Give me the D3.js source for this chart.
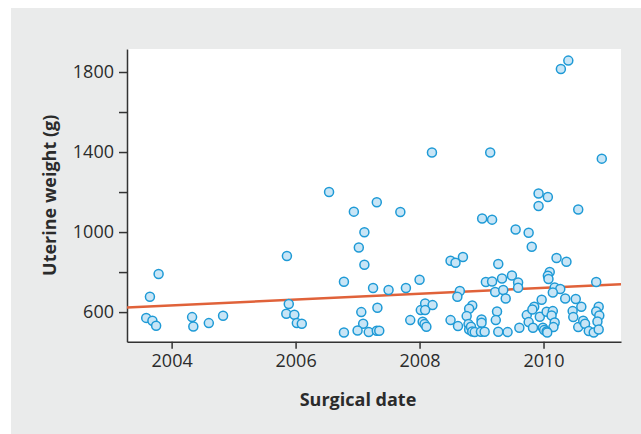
<!DOCTYPE html>
<html>
<head>
<meta charset="utf-8">
<script src="https://cdn.jsdelivr.net/npm/d3@7"></script>
<style>
  body { margin: 0; background: #ffffff; }
  svg { display: block; }
  .axis path, .axis line { stroke: #333333; stroke-width: 1.5; }
  .axis text { font-family: "Open Sans", sans-serif; font-size: 18px; fill: #2b2b2b; }
</style>
</head>
<body>
<script>
// 수술 날짜 (소수 연도)
const surgeryYears = [
    2003.79, 2003.65, 2003.59, 2003.69, 2003.75, 2004.33, 2004.35, 2004.60, 2004.83,
    2005.86, 2005.89, 2005.85, 2005.98, 2006.02, 2006.10,
    2006.54, 2007.31, 2006.94, 2007.69, 2007.11, 2007.02, 2007.11, 2006.78, 2007.25,
    2007.50, 2007.78, 2008.00, 2007.32, 2007.06, 2007.09, 2007.00, 2006.78, 2007.18,
    2007.31, 2007.35, 2007.85, 2008.02, 2008.09, 2008.21, 2008.09, 2008.05, 2008.08,
    2008.11, 2008.20,
    2008.50, 2008.58, 2008.70, 2008.65, 2008.61, 2008.50, 2008.62, 2008.85, 2008.80,
    2008.76, 2008.79, 2008.80, 2008.83, 2008.85, 2008.89, 2009.00, 2009.00, 2008.99,
    2009.05, 2009.27, 2009.07, 2009.17, 2009.33, 2009.49, 2009.59, 2009.59, 2009.22,
    2009.35, 2009.39, 2009.25, 2009.23, 2009.27, 2009.42, 2009.61, 2009.14, 2009.01,
    2009.17, 2009.55, 2009.76, 2009.81,
    2009.73, 2009.76, 2009.85, 2009.82, 2009.83, 2009.94, 2010.05, 2010.15, 2010.13,
    2010.18, 2010.16, 2009.99, 2010.01, 2010.05, 2010.06, 2009.97, 2010.21, 2010.37,
    2010.10, 2010.07, 2010.08, 2010.18, 2010.27, 2010.15, 2010.35, 2010.52, 2010.61,
    2010.47, 2010.48, 2010.56, 2010.64, 2010.67, 2010.73, 2010.81, 2010.85, 2010.89,
    2010.85, 2010.90, 2010.87, 2010.89, 2009.92, 2010.07, 2009.92, 2010.56, 2010.28,
    2010.40, 2010.94
];

// 자궁 무게 (g)
const uterineWeights = [
    790, 677, 571, 557, 532, 575, 528, 545, 582,
    880, 640, 592, 587, 545, 542,
    1200, 1149, 1102, 1100, 999, 923, 837, 752, 720,
    710, 720, 762, 622, 600, 542, 508, 498, 500,
    507, 507, 560, 610, 643, 635, 610, 552, 540,
    527, 1398,
    857, 847, 875, 705, 677, 560, 530, 633, 617,
    580, 540, 513, 527, 503, 500, 563, 547, 502,
    502, 840, 750, 753, 768, 783, 748, 722, 700,
    710, 668, 603, 560, 502, 500, 522, 1398, 1068,
    1062, 1013, 997, 927,
    585, 550, 627, 613, 522, 577, 602, 605, 583,
    548, 525, 522, 510, 503, 498, 662, 870, 852,
    800, 782, 765, 723, 715, 698, 668, 665, 627,
    605, 575, 525, 557, 542, 505, 498, 750, 627,
    603, 583, 553, 513, 1193, 1175, 1130, 1113, 1815,
    1857, 1367
];

// 회귀선 양 끝
const trendYears = [2003.28, 2011.25];
const trendValues = [623, 739];

// 축 눈금
const xTicks = [2004, 2006, 2008, 2010];
const yTicks = [600, 800, 1000, 1200, 1400, 1600, 1800];
const yLabelTicks = [600, 1000, 1400, 1800];

function renderSVG() {
    // ==================================================
    // 1. 기본 설정
    // ==================================================
    const width = 641;
    const height = 434;
    const plot = { left: 127, top: 49, right: 621, bottom: 341.7 };

    const svg = d3.select('body')
        .append('svg')
        .attr('width', width)
        .attr('height', height);

    // 회색 패널 + 흰색 플롯 영역
    svg.append('rect')
        .attr('x', 11).attr('y', 8)
        .attr('width', width - 11).attr('height', height - 8)
        .attr('fill', '#eaebeb');

    svg.append('rect')
        .attr('x', plot.left).attr('y', plot.top)
        .attr('width', plot.right - plot.left).attr('height', plot.bottom - plot.top)
        .attr('fill', '#ffffff');

    // ==================================================
    // 2. 스케일
    // ==================================================
    const scaleX = d3.scaleLinear()
        .domain([2003.28, 2011.25])
        .range([plot.left, plot.right]);

    const scaleY = d3.scaleLinear()
        .domain([452, 1915])
        .range([plot.bottom, plot.top]);

    // ==================================================
    // 3. 축
    // ==================================================
    const xAxis = d3.axisBottom(scaleX)
        .tickValues(xTicks)
        .tickSize(7)
        .tickSizeOuter(0)
        .tickPadding(6)
        .tickFormat(d3.format('d'));

    const yAxis = d3.axisLeft(scaleY)
        .tickValues(yTicks)
        .tickSize(8)
        .tickSizeOuter(0)
        .tickPadding(5)
        .tickFormat(d => yLabelTicks.includes(d) ? d : '');

    svg.append('g')
        .attr('class', 'axis')
        .attr('transform', `translate(0, ${plot.bottom})`)
        .call(xAxis);

    svg.append('g')
        .attr('class', 'axis')
        .attr('transform', `translate(${plot.left}, 0)`)
        .call(yAxis);

    // ==================================================
    // 4. 회귀선
    // ==================================================
    svg.append('line')
        .attr('x1', scaleX(trendYears[0]))
        .attr('y1', scaleY(trendValues[0]))
        .attr('x2', scaleX(trendYears[1]))
        .attr('y2', scaleY(trendValues[1]))
        .attr('stroke', '#e0623a')
        .attr('stroke-width', 2.5);

    // ==================================================
    // 5. 점
    // ==================================================
    const points = surgeryYears.map((yr, i) => ({ x: yr, y: uterineWeights[i] }));

    svg.selectAll('circle.pt')
        .data(points)
        .enter()
        .append('circle')
        .attr('class', 'pt')
        .attr('cx', d => scaleX(d.x))
        .attr('cy', d => scaleY(d.y))
        .attr('r', 4.5)
        .attr('fill', '#c8e5f6')
        .attr('stroke', '#1e9ad6')
        .attr('stroke-width', 1.5);

    // ==================================================
    // 6. 축 제목
    // ==================================================
    svg.append('text')
        .attr('x', 358)
        .attr('y', 406)
        .attr('text-anchor', 'middle')
        .attr('font-family', '"Open Sans", sans-serif')
        .attr('font-size', '18px')
        .attr('font-weight', 'bold')
        .attr('fill', '#2b2b2b')
        .text('Surgical date');

    svg.append('text')
        .attr('transform', `translate(56, ${(plot.top + plot.bottom) / 2}) rotate(-90)`)
        .attr('text-anchor', 'middle')
        .attr('font-family', '"Open Sans", sans-serif')
        .attr('font-size', '18px')
        .attr('font-weight', 'bold')
        .attr('fill', '#2b2b2b')
        .text('Uterine weight (g)');
}

window.addEventListener('load', function() {
    requestAnimationFrame(renderSVG);
});
</script>
</body>
</html>
